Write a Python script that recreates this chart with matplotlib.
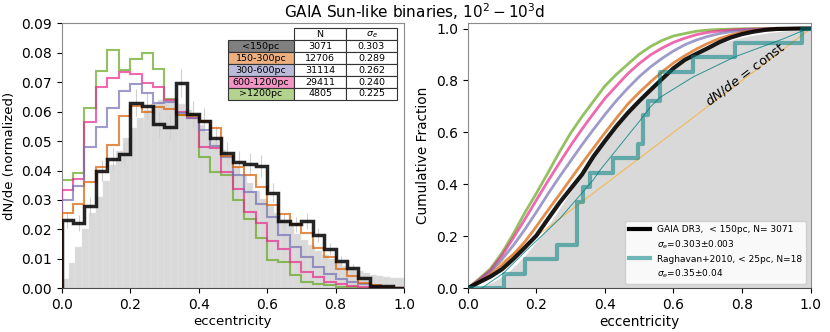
import numpy as np
import matplotlib
matplotlib.use("Agg")
import matplotlib.pyplot as plt
from matplotlib.lines import Line2D

plt.rcParams['font.family'] = ['DejaVu Sans']

# ---------------- data ----------------
ecc_edges = np.linspace(0, 1, 31)

groups = ['<150pc', '150-300pc', '300-600pc', '600-1200pc', '>1200pc']
group_N = [3071, 12706, 31114, 29411, 4805]
group_sigma = ['0.303', '0.289', '0.262', '0.240', '0.225']

hist_150 = [0.0232, 0.0221, 0.0280, 0.0400, 0.0438, 0.0456, 0.0630, 0.0620, 0.0557, 0.0549,
            0.0698, 0.0592, 0.0568, 0.0512, 0.0458, 0.0430, 0.0421, 0.0415, 0.0325, 0.0229,
            0.0217, 0.0229, 0.0181, 0.0134, 0.0093, 0.0068, 0.0036, 0.0009, 0.0009, 0.0]
hist_300 = [0.0255, 0.0286, 0.0362, 0.0411, 0.0487, 0.0585, 0.0619, 0.0600, 0.0615, 0.0610,
            0.0590, 0.0586, 0.0568, 0.0543, 0.0450, 0.0413, 0.0385, 0.0345, 0.0283, 0.0251,
            0.0220, 0.0187, 0.0136, 0.0108, 0.0066, 0.0043, 0.0017, 0.0011, 0.0006, 0.0002]
hist_600 = [0.0300, 0.0347, 0.0479, 0.0547, 0.0614, 0.0669, 0.0695, 0.0662, 0.0630, 0.0632,
            0.0594, 0.0577, 0.0538, 0.0485, 0.0447, 0.0385, 0.0328, 0.0288, 0.0243, 0.0181,
            0.0141, 0.0108, 0.0074, 0.0048, 0.0032, 0.0020, 0.0014, 0.0008, 0.0003, 0.0]
hist_1200 = [0.0334, 0.0370, 0.0566, 0.0683, 0.0713, 0.0736, 0.0727, 0.0698, 0.0683, 0.0640,
             0.0600, 0.0579, 0.0481, 0.0476, 0.0394, 0.0337, 0.0260, 0.0222, 0.0161, 0.0134,
             0.0088, 0.0054, 0.0040, 0.0023, 0.0014, 0.0009, 0.0006, 0.0003, 0.0002, 0.0]
hist_far = [0.0368, 0.0390, 0.0611, 0.0739, 0.0810, 0.0742, 0.0778, 0.0800, 0.0744, 0.0642,
            0.0589, 0.0587, 0.0447, 0.0394, 0.0385, 0.0300, 0.0234, 0.0170, 0.0096, 0.0088,
            0.0045, 0.0023, 0.0015, 0.0011, 0.0006, 0.0003, 0.0002, 0.0, 0.0, 0.0]

# model (grey) distribution, 50 fine bins
model_edges = np.linspace(0, 1, 51)
model_hist = [0.0030, 0.0085, 0.0140, 0.0200, 0.0255, 0.0310, 0.0365, 0.0420, 0.0465, 0.0510,
              0.0545, 0.0580, 0.0605, 0.0625, 0.0638, 0.0642, 0.0638, 0.0625, 0.0605, 0.0580,
              0.0555, 0.0530, 0.0500, 0.0470, 0.0445, 0.0415, 0.0385, 0.0357, 0.0330, 0.0305,
              0.0280, 0.0255, 0.0232, 0.0210, 0.0185, 0.0165, 0.0146, 0.0128, 0.0112, 0.0098,
              0.0086, 0.0075, 0.0066, 0.0058, 0.0051, 0.0046, 0.0042, 0.0039, 0.0036, 0.0034]

# Raghavan+2010 eccentricities (N=18)
raghavan_e = [0.107, 0.167, 0.259, 0.318, 0.318, 0.318, 0.337, 0.357, 0.4245,
              0.497, 0.510, 0.510, 0.527, 0.561, 0.561, 0.658, 0.779, 0.974]

# thin teal smooth curve (model fit to Raghavan)
fit_e = [0.0, 0.04, 0.104, 0.172, 0.269, 0.366, 0.386, 0.464, 0.502, 0.531, 0.561,
         0.658, 0.779, 0.92, 0.974, 1.0]
fit_cdf = [0.0, 0.0, 0.058, 0.147, 0.269, 0.417, 0.455, 0.583, 0.645, 0.696, 0.735,
           0.814, 0.891, 0.960, 0.990, 1.0]

# dN/de = const
const_e = [0.0, 1.0]
const_cdf = [0.0, 1.0]

# ---------------- styling ----------------
dark2 = ['#000000', '#d95f02', '#7570b3', '#e7298a', '#66a61e']
hists = [hist_150, hist_300, hist_600, hist_1200, hist_far]

fig = plt.figure(figsize=(8.3, 3.32), dpi=100)
ax1 = fig.add_axes([0.0743, 0.1316, 0.4124, 0.7982])
ax2 = fig.add_axes([0.5635, 0.1316, 0.4132, 0.7982])

# ---- left panel ----
mcent = 0.5 * (model_edges[:-1] + model_edges[1:])
ax1.bar(mcent, model_hist, width=np.diff(model_edges), color='#d9d9d9',
        edgecolor='#e3e3e3', linewidth=0.3, zorder=0)

# light error bars of nearest sample
cent = 0.5 * (ecc_edges[:-1] + ecc_edges[1:])
h150 = np.array(hist_150)
err = np.sqrt(h150 * group_N[0]) / group_N[0]
ax1.errorbar(cent, h150, yerr=err, fmt='none', ecolor='#cfcfcf', elinewidth=0.8,
             zorder=1)

for i in [4, 3, 2, 1]:
    ax1.stairs(hists[i], ecc_edges, color=dark2[i], alpha=0.7, linewidth=1.5, zorder=2 + (4 - i))
ax1.stairs(hists[0], ecc_edges, color='black', alpha=0.85, linewidth=2.5, zorder=10)

ax1.set_xlim(0, 1)
ax1.set_ylim(0, 0.09)
ax1.set_xticks(np.arange(0, 1.01, 0.2))
ax1.set_yticks(np.arange(0, 0.0901, 0.01))
ax1.set_yticklabels([f'{v:.2f}' for v in np.arange(0, 0.0901, 0.01)])
ax1.tick_params(labelsize=10)
ax1.set_xlabel('eccentricity', fontsize=9.5, labelpad=2)
ax1.set_ylabel('dN/de (normalized)', fontsize=9.5)

# table
cell_text = [['', 'N', r'$\sigma_e$']]
cell_col = [['white', 'white', 'white']]
table_bg = ['#808080', '#ecaf80', '#babadb', '#f294c4', '#b3d38e']
for g, n, s, c in zip(groups, group_N, group_sigma, table_bg):
    cell_text.append([g, str(n), s])
    cell_col.append([c, 'white', 'white'])
tbl = ax1.table(cellText=cell_text, cellColours=cell_col, cellLoc='center',
                colWidths=[0.393, 0.304, 0.303], bbox=[0.485, 0.711, 0.495, 0.27],
                zorder=20)
tbl.auto_set_font_size(False)
tbl.set_fontsize(6.8)
for (r, c), cell in tbl.get_celld().items():
    cell.set_edgecolor('#333333')
    cell.set_linewidth(0.8)
    if c == 0 and r > 0:
        cell._loc = 'left'
        cell.PAD = 0.1
tbl[(0, 0)].visible_edges = ''

# ---- right panel ----
mcdf = np.concatenate([[0], np.cumsum(model_hist)]) / np.sum(model_hist)
ax2.fill_between(model_edges, 0, mcdf, color='#d9d9d9', linewidth=0, zorder=0)

ax2.plot(const_e, const_cdf, color='orange', alpha=0.6, linewidth=0.8, zorder=1)
ax2.plot(fit_e, fit_cdf, color='teal', alpha=0.8, linewidth=0.7, zorder=1)

for i in [4, 3, 2, 1]:
    h = np.array(hists[i])
    cdf = np.concatenate([[0], np.cumsum(h)]) / h.sum()
    ax2.plot(ecc_edges, cdf, color=dark2[i], alpha=0.7, linewidth=2, zorder=2 + (4 - i))
cdf0 = np.concatenate([[0], np.cumsum(h150)]) / h150.sum()
ax2.plot(ecc_edges, cdf0, color='black', alpha=0.9, linewidth=3, zorder=8)

re = np.sort(raghavan_e)
nr = len(re)
rx = np.concatenate([[0], re, [1]])
ry = np.concatenate([[0], np.arange(1, nr + 1) / nr, [1]])
ax2.step(rx, ry, where='post', color='teal', alpha=0.55, linewidth=3, zorder=9)

ax2.text(0.81, 0.825, r'$dN/de$ = const', rotation=37, rotation_mode='anchor',
         ha='center', va='center', fontsize=9.5, zorder=12)

ax2.set_xlim(0, 1)
ax2.set_ylim(0, 1.02)
ax2.set_xticks(np.arange(0, 1.01, 0.2))
ax2.set_yticks(np.arange(0, 1.01, 0.2))
ax2.tick_params(labelsize=10)
ax2.set_xlabel('eccentricity', fontsize=9.8, labelpad=2)
ax2.set_ylabel('Cumulative Fraction', fontsize=9.8)

handles = [Line2D([], [], color='black', linewidth=3),
           Line2D([], [], color='none'),
           Line2D([], [], color='teal', alpha=0.55, linewidth=3),
           Line2D([], [], color='none')]
labels = ['GAIA DR3,  < 150pc, N= 3071', r'$\sigma_e$=0.303±0.003',
          'Raghavan+2010, < 25pc, N=18', r'$\sigma_e$=0.35±0.04']
leg = ax2.legend(handles, labels, loc='lower right', fontsize=6.5, handlelength=2.4,
                 labelspacing=0.45, framealpha=0.85)
leg.set_zorder(15)

for ax in (ax1, ax2):
    for s in ['left', 'top', 'right']:
        ax.spines[s].set_color('0.55')
    ax.spines['bottom'].set_color('0.3')

fig.suptitle(r'GAIA Sun-like binaries, $10^2-10^3$d', fontsize=11, x=0.5, y=0.995)

fig.savefig('out.png', dpi=100)
